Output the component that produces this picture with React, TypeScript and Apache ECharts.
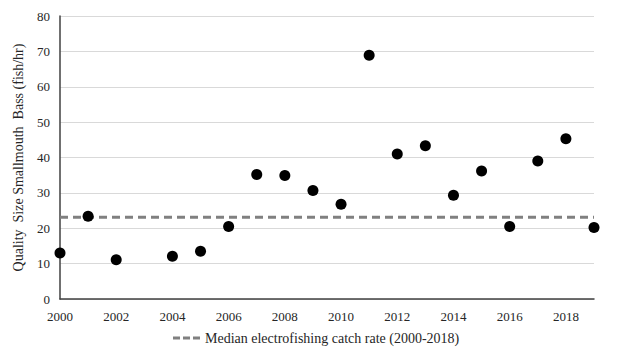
import React, { useEffect, useRef } from "react";
import * as echarts from "echarts";

const years = [2000, 2001, 2002, 2004, 2005, 2006, 2007, 2008, 2009, 2010, 2011, 2012, 2013, 2014, 2015, 2016, 2017, 2018, 2019];
const catchRates = [13.0, 23.4, 11.1, 12.1, 13.5, 20.5, 35.2, 34.9, 30.7, 26.8, 68.9, 41.0, 43.3, 29.3, 36.2, 20.5, 39.0, 45.3, 20.2];
const medianRate = 23.1;
const medianName = "Median electrofishing catch rate (2000-2018)";
const xMin = 2000;
const xMax = 2019;
const yTicks = [0, 10, 20, 30, 40, 50, 60, 70, 80];

export default function App() {
  const ref = useRef<HTMLDivElement>(null);
  useEffect(() => {
    if (!ref.current) return;
    const chart = echarts.init(ref.current, undefined, { renderer: "svg" });
    const font = "'Liberation Serif', 'Times New Roman', serif";
    chart.setOption({
      animation: false,
      textStyle: { fontFamily: font },
      grid: { left: 60, right: 26, top: 16, bottom: 56 },
      legend: {
        data: [{ name: medianName, icon: "path://M0,0h7v3h-7z M10,0h7v3h-7z M20,0h7v3h-7z" }],
        bottom: 5,
        left: 168,
        itemWidth: 27,
        itemHeight: 3,
        itemGap: 6,
        textStyle: { fontFamily: font, fontSize: 14, color: "#262626" },
      },
      xAxis: {
        type: "value",
        min: xMin,
        max: xMax,
        interval: 2,
        axisLine: { lineStyle: { color: "#404040", width: 1.5 } },
        axisTick: { show: false },
        splitLine: { show: false },
        axisLabel: {
          showMaxLabel: false,
          fontFamily: font,
          fontSize: 13,
          color: "#262626",
          margin: 11,
          formatter: (v: number) => String(v),
        },
      },
      yAxis: {
        type: "value",
        min: yTicks[0],
        max: yTicks[yTicks.length - 1],
        interval: 10,
        name: "Quality  Size Smallmouth  Bass (fish/hr)",
        nameLocation: "middle",
        nameRotate: 90,
        nameGap: 35,
        nameTextStyle: { fontFamily: font, fontSize: 14, color: "#262626" },
        axisLine: { show: true, lineStyle: { color: "#404040", width: 1.5 } },
        axisTick: { show: false },
        splitLine: { lineStyle: { color: "#d9d9d9", width: 1 } },
        axisLabel: { fontFamily: font, fontSize: 13, color: "#262626", margin: 10 },
      },
      series: [
        {
          name: medianName,
          type: "line",
          data: [[xMin, medianRate], [xMax, medianRate]],
          symbol: "none",
          lineStyle: { color: "#808080", width: 3, type: [8, 5] },
          itemStyle: { color: "#808080" },
          z: 1,
        },
        {
          name: "Catch rate",
          type: "scatter",
          data: years.map((y, i) => [y, catchRates[i]]),
          symbolSize: 11,
          itemStyle: { color: "#000000", opacity: 1 },
          z: 3,
        },
      ],
    });
    return () => chart.dispose();
  }, []);
  return <div ref={ref} style={{ width: 620, height: 355, marginLeft: -8, marginTop: -8 }} />;
}
